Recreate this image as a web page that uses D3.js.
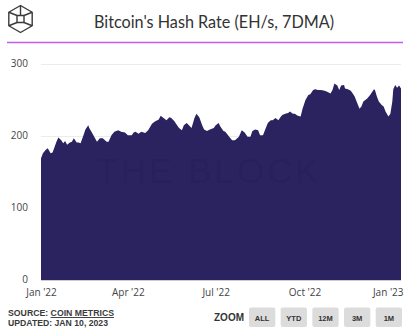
<!DOCTYPE html>
<html>
<head>
<meta charset="utf-8">
<script src="https://cdn.jsdelivr.net/npm/d3@7"></script>
<style>
  html, body { margin: 0; padding: 0; background: #fff; }
  svg { display: block; }
</style>
</head>
<body>
<svg id="chart" width="407" height="331"></svg>
<script>
// Bitcoin hash rate, 7-day moving average (EH/s)
const dates = [
  "2022-01-01","2022-01-03","2022-01-06","2022-01-08","2022-01-11","2022-01-13","2022-01-17","2022-01-19",
  "2022-01-22","2022-01-24","2022-01-26","2022-01-28","2022-01-31","2022-02-02","2022-02-04","2022-02-07",
  "2022-02-09","2022-02-11","2022-02-14","2022-02-16","2022-02-19","2022-02-20","2022-02-23","2022-02-26",
  "2022-02-28","2022-03-03","2022-03-06","2022-03-10","2022-03-12","2022-03-15","2022-03-18","2022-03-22",
  "2022-03-25","2022-03-29","2022-04-01","2022-04-05","2022-04-07","2022-04-09","2022-04-12","2022-04-15",
  "2022-04-19","2022-04-22","2022-04-26","2022-04-29","2022-05-03","2022-05-05","2022-05-08","2022-05-11",
  "2022-05-14","2022-05-16","2022-05-19","2022-05-22","2022-05-24","2022-05-27","2022-05-29","2022-06-01",
  "2022-06-04","2022-06-06","2022-06-09","2022-06-11","2022-06-14","2022-06-17","2022-06-19","2022-06-22",
  "2022-06-25","2022-06-29","2022-07-01","2022-07-04","2022-07-06","2022-07-09","2022-07-11","2022-07-15",
  "2022-07-18","2022-07-21","2022-07-25","2022-07-28","2022-07-31","2022-08-03","2022-08-06","2022-08-08",
  "2022-08-11","2022-08-14","2022-08-16","2022-08-19","2022-08-21","2022-08-24","2022-08-27","2022-08-29",
  "2022-09-01","2022-09-04","2022-09-06","2022-09-08","2022-09-11","2022-09-14","2022-09-16","2022-09-19",
  "2022-09-21","2022-09-24","2022-09-27","2022-09-29","2022-10-02","2022-10-05","2022-10-07","2022-10-10",
  "2022-10-12","2022-10-15","2022-10-18","2022-10-22","2022-10-25","2022-10-28","2022-10-30","2022-11-01",
  "2022-11-04","2022-11-06","2022-11-08","2022-11-11","2022-11-12","2022-11-15","2022-11-18","2022-11-20",
  "2022-11-22","2022-11-24","2022-11-27","2022-11-29","2022-12-01","2022-12-05","2022-12-08","2022-12-12",
  "2022-12-13","2022-12-15","2022-12-17","2022-12-20","2022-12-22","2022-12-24","2022-12-27","2022-12-29",
  "2022-12-31","2023-01-01","2023-01-03","2023-01-05","2023-01-07","2023-01-09"
];
const hashRate = [
  169,176,181,183,176,177,192,198,
  194,190,193,188,191,192,197,191,
  191,190,201,209,215,211,204,197,
  192,197,197,192,192,201,206,208,
  206,205,201,201,205,206,203,206,
  204,208,217,220,223,228,225,222,
  226,225,221,215,211,208,215,218,
  214,211,225,231,226,215,209,207,
  209,211,215,218,213,207,206,199,
  194,194,199,208,205,199,199,207,
  209,208,201,201,208,218,222,222,
  225,222,226,229,231,232,234,231,
  231,228,227,238,250,257,258,264,
  265,264,264,263,261,259,264,273,
  270,264,270,271,266,265,263,259,
  255,248,238,241,248,252,257,265,
  264,255,248,243,241,234,227,231,
  248,265,271,267,270,266
];
const yTicks = [0, 100, 200, 300];
const xTickDates = ["2022-01-01","2022-04-01","2022-07-01","2022-10-01","2023-01-01"];
const xTickLabels = ["Jan '22","Apr '22","Jul '22","Oct '22","Jan '23"];
const zoomButtons = ["ALL","YTD","12M","3M","1M"];

const parse = d3.utcParse("%Y-%m-%d");
const series = dates.map((d, i) => ({ date: parse(d), value: hashRate[i] }));

const svg = d3.select("#chart");
const font = "'Open Sans', 'Liberation Sans', sans-serif";
const sans = "'Liberation Sans', Arial, sans-serif";

// Header: logo, title and accent rule
const logo = svg.append("g").attr("fill", "none").attr("stroke", "#3a3a3a")
  .attr("stroke-width", 1.4).attr("stroke-linejoin", "round");
const cx = 20.5, cy = 19, r = 13.5;
const hex = d3.range(6).map(k => {
  const a = Math.PI / 3 * k - Math.PI / 2;
  return [cx + r * Math.cos(a), cy + r * Math.sin(a)];
});
logo.append("path").attr("d", "M" + hex.map(p => p.join(",")).join("L") + "Z");
const s = 3.5;
const inner = [[cx - s, cy - s], [cx + s, cy - s], [cx + s, cy + s], [cx - s, cy + s]];
logo.append("path").attr("d", "M" + inner.map(p => p.join(",")).join("L") + "Z");
[[hex[0], [cx, cy - s]], [hex[2], [cx + s, cy + s]], [hex[4], [cx - s, cy + s]]]
  .forEach(([a, b]) => logo.append("line").attr("x1", a[0]).attr("y1", a[1]).attr("x2", b[0]).attr("y2", b[1]));
logo.append("line").attr("x1", hex[1][0]).attr("y1", hex[1][1]).attr("x2", cx + s).attr("y2", cy - s);
logo.append("line").attr("x1", hex[5][0]).attr("y1", hex[5][1]).attr("x2", cx - s).attr("y2", cy - s);

svg.append("text")
  .attr("x", 214).attr("y", 28)
  .attr("text-anchor", "middle")
  .attr("font-family", "Lato, 'Open Sans', sans-serif").attr("font-size", 17.5)
  .attr("fill", "#333")
  .attr("textLength", 240).attr("lengthAdjust", "spacingAndGlyphs")
  .text("Bitcoin's Hash Rate (EH/s, 7DMA)");

svg.append("line")
  .attr("x1", 7).attr("x2", 403).attr("y1", 42.5).attr("y2", 42.5)
  .attr("stroke", "#c35ce9").attr("stroke-width", 1.3);

// Plot scales
const x = d3.scaleUtc()
  .domain([parse("2022-01-01"), parse("2023-01-09")])
  .range([41, 401]);
const y = d3.scaleLinear().domain([0, 300]).range([280, 64]);

// Grid
svg.append("g").selectAll("line")
  .data(yTicks.filter(t => t > 0))
  .join("line")
  .attr("x1", 41).attr("x2", 401)
  .attr("y1", d => y(d) + 0.5).attr("y2", d => y(d) + 0.5)
  .attr("stroke", "#ececec").attr("stroke-width", 1);

// Area
const area = d3.area()
  .x(d => x(d.date))
  .y0(y(0))
  .y1(d => y(d.value))
  .curve(d3.curveLinear);

svg.append("path")
  .datum(series)
  .attr("d", area)
  .attr("fill", "#2a2360");

// Watermark
svg.append("text")
  .attr("x", 209).attr("y", 183)
  .attr("text-anchor", "middle")
  .attr("font-family", sans)
  .attr("font-size", 35)
  .attr("letter-spacing", 3)
  .attr("fill", "#000").attr("fill-opacity", 0.07)
  .text("THE BLOCK");

// Baseline
svg.append("line")
  .attr("x1", 41).attr("x2", 401).attr("y1", 280.5).attr("y2", 280.5)
  .attr("stroke", "#ccc").attr("stroke-width", 1);

// Y axis labels
const yAxis = svg.append("g")
  .attr("transform", "translate(28,-1)")
  .call(d3.axisLeft(y).tickValues(yTicks).tickSize(0).tickPadding(0).tickFormat(d3.format("d")));
yAxis.select(".domain").remove();
yAxis.selectAll("text")
  .attr("font-family", font).attr("font-size", 10).attr("fill", "#444");

// X axis labels
const xAxis = svg.append("g")
  .attr("transform", "translate(0,289)")
  .call(d3.axisBottom(x)
    .tickValues(xTickDates.map(parse))
    .tickSize(0).tickPadding(0)
    .tickFormat((d, i) => xTickLabels[i]));
xAxis.select(".domain").remove();
xAxis.selectAll("text")
  .attr("font-family", font).attr("font-size", 10).attr("fill", "#444");
// Keep the last label inside the plot's right edge
xAxis.selectAll(".tick").filter((d, i) => i === xTickDates.length - 1)
  .select("text").attr("text-anchor", "end").attr("x", 401 - x(parse("2023-01-01")) + 2);

// Footer
const foot = svg.append("g")
  .attr("font-family", sans)
  .attr("font-weight", "bold").attr("font-size", 9.5).attr("fill", "#3a3a3a");
const src = foot.append("text").attr("x", 8).attr("y", 316)
  .attr("textLength", 106).attr("lengthAdjust", "spacingAndGlyphs");
src.append("tspan").text("SOURCE: ");
src.append("tspan").attr("text-decoration", "underline").text("COIN METRICS");
foot.append("text").attr("x", 8).attr("y", 326)
  .attr("textLength", 100).attr("lengthAdjust", "spacingAndGlyphs")
  .text("UPDATED: JAN 10, 2023");

svg.append("text")
  .attr("x", 214).attr("y", 320.5)
  .attr("font-family", sans).attr("font-size", 10.5).attr("font-weight", "bold")
  .attr("fill", "#333")
  .attr("textLength", 30).attr("lengthAdjust", "spacingAndGlyphs")
  .text("ZOOM");

const btnScale = d3.scaleBand().domain(zoomButtons).range([249, 402]).paddingInner(0.17);
const btns = svg.append("g").selectAll("g")
  .data(zoomButtons)
  .join("g")
  .attr("transform", d => `translate(${btnScale(d)},307.5)`);
btns.append("rect")
  .attr("width", btnScale.bandwidth()).attr("height", 19.5)
  .attr("rx", 2).attr("fill", "#dcdcdc");
btns.append("text")
  .attr("x", btnScale.bandwidth() / 2).attr("y", 13)
  .attr("text-anchor", "middle")
  .attr("font-family", sans)
  .attr("font-size", 7.5).attr("font-weight", "bold").attr("fill", "#333")
  .text(d => d);
</script>
</body>
</html>
